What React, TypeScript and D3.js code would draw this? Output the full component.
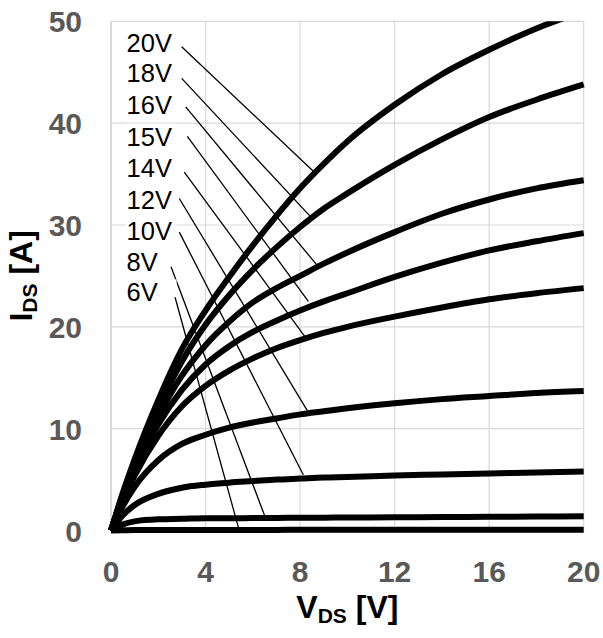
import React from "react";
import * as d3 from "d3";

const VDS = [0, 0.5, 1, 2, 3, 4, 5, 6, 7, 8, 9, 10, 12, 14, 16, 18, 20];

const I_20V = [0, 3.7, 7.0, 12.8, 17.8, 21.6, 24.9, 28.0, 30.9, 33.6, 36.0, 38.2, 41.8, 44.8, 47.2, 49.3, 51.0];
const I_18V = [0, 3.5, 6.6, 12.0, 16.6, 20.2, 23.1, 25.6, 27.8, 29.8, 31.6, 33.1, 35.9, 38.4, 40.6, 42.3, 43.8];
const I_16V = [0, 3.3, 6.2, 11.2, 15.2, 18.2, 20.5, 22.4, 23.8, 25.0, 26.2, 27.3, 29.3, 31.1, 32.5, 33.6, 34.4];
const I_15V = [0, 3.2, 5.9, 10.4, 13.8, 16.3, 18.1, 19.5, 20.6, 21.6, 22.5, 23.3, 24.9, 26.3, 27.5, 28.4, 29.2];
const I_14V = [0, 3.0, 5.4, 9.3, 12.2, 14.2, 15.7, 16.9, 17.9, 18.7, 19.4, 20.0, 21.0, 21.9, 22.7, 23.3, 23.8];
const I_12V = [0, 2.4, 4.3, 6.9, 8.5, 9.4, 10.1, 10.6, 11.0, 11.4, 11.7, 12.0, 12.5, 12.9, 13.2, 13.5, 13.7];
const I_10V = [0, 1.5, 2.5, 3.6, 4.2, 4.5, 4.7, 4.85, 5.0, 5.1, 5.2, 5.25, 5.4, 5.5, 5.6, 5.7, 5.8];
const I_8V = [0, 0.6, 0.9, 1.1, 1.15, 1.2, 1.2, 1.22, 1.23, 1.25, 1.26, 1.27, 1.3, 1.32, 1.35, 1.37, 1.4];
const I_6V = [0, 0.02, 0.04, 0.05, 0.05, 0.06, 0.06, 0.06, 0.06, 0.07, 0.07, 0.07, 0.07, 0.08, 0.08, 0.08, 0.08];

const SERIES = [I_20V, I_18V, I_16V, I_15V, I_14V, I_12V, I_10V, I_8V, I_6V];

const GATE_LABELS = ["20V", "18V", "16V", "15V", "14V", "12V", "10V", "8V", "6V"];
const LABEL_V = 0.66;
const LABEL_I = [47.0, 44.0, 40.9, 37.8, 34.7, 31.6, 28.5, 25.5, 22.5];
const LEADER_START_V = [2.99, 2.99, 3.16, 3.23, 3.1, 2.89, 2.89, 2.54, 2.71];
const LEADER_START_I = [47.5, 44.4, 41.6, 38.7, 35.2, 32.6, 29.3, 25.9, 22.9];
const LEADER_END_V = [8.55, 8.49, 8.7, 8.35, 8.25, 8.3, 8.14, 6.5, 5.39];
const LEADER_END_I = [35.3, 30.7, 26.1, 22.5, 18.9, 11.8, 5.45, 1.45, 0.3];

const X_TICKS = [0, 4, 8, 12, 16, 20];
const Y_TICKS = [0, 10, 20, 30, 40, 50];

const W = 603;
const H = 638;
const FONT = "'Liberation Sans', Arial, Helvetica, sans-serif";

export default function App() {
  const x = d3.scaleLinear().domain([0, 20]).range([111, 583.7]);
  const y = d3.scaleLinear().domain([0, 50]).range([530.5, 21.3]);

  const line = d3
    .line<[number, number]>()
    .x((d) => x(d[0]))
    .y((d) => y(d[1]))
    .curve(d3.curveMonotoneX);

  const [x0, x1] = x.range();
  const [y0, y1] = y.range();

  return (
    <svg
      width={W}
      height={H}
      viewBox={`0 0 ${W} ${H}`}
      style={{ position: "absolute", left: 0, top: 0, background: "#fff" }}
    >
      <defs>
        <clipPath id="plot">
          <rect x={x0 - 4} y={y1} width={x1 - x0 + 8} height={y0 - y1 + 6} />
        </clipPath>
      </defs>
      <rect x={0} y={0} width={W} height={H} fill="#fff" />
      {X_TICKS.map((t) => (
        <line key={"gx" + t} x1={x(t)} x2={x(t)} y1={y1} y2={y0} stroke={t === 0 ? "#bfbfbf" : "#d9d9d9"} strokeWidth={1.2} />
      ))}
      {Y_TICKS.map((t) => (
        <line key={"gy" + t} x1={x0} x2={x1} y1={y(t)} y2={y(t)} stroke="#d9d9d9" strokeWidth={1.2} />
      ))}
      <g clipPath="url(#plot)">
        {SERIES.map((s, i) => (
          <path
            key={"c" + i}
            d={line(VDS.map((v, k) => [v, s[k]] as [number, number])) || ""}
            fill="none"
            stroke="#000"
            strokeWidth={6}
            strokeLinecap="butt"
            strokeLinejoin="round"
          />
        ))}
      </g>
      {GATE_LABELS.map((lab, i) => (
        <g key={"l" + i}>
          <rect x={x(LABEL_V) - 1} y={y(LABEL_I[i]) - 22} width={51} height={27} fill="#fff" />
          <text x={x(LABEL_V)} y={y(LABEL_I[i])} fontFamily={FONT} fontSize={25.5} fill="#000">
            {lab}
          </text>
          <line
            x1={x(LEADER_START_V[i])}
            y1={y(LEADER_START_I[i])}
            x2={x(LEADER_END_V[i])}
            y2={y(LEADER_END_I[i])}
            stroke="#000"
            strokeWidth={1.3}
          />
        </g>
      ))}
      {Y_TICKS.map((t) => (
        <text
          key={"yt" + t}
          x={82}
          y={y(t) + 11}
          textAnchor="end"
          fontFamily={FONT}
          fontWeight="bold"
          fontSize={30}
          fill="#595959"
        >
          {t}
        </text>
      ))}
      {X_TICKS.map((t) => (
        <text
          key={"xt" + t}
          x={x(t)}
          y={581.5}
          textAnchor="middle"
          fontFamily={FONT}
          fontWeight="bold"
          fontSize={30}
          fill="#595959"
        >
          {t}
        </text>
      ))}
      <text
        x={(x0 + x1) / 2}
        y={618}
        textAnchor="middle"
        fontFamily={FONT}
        fontWeight="bold"
        fontSize={32}
        fill="#000"
      >
        V
        <tspan fontSize={21} dy={5}>DS</tspan>
        <tspan dy={-5}> [V]</tspan>
      </text>
      <text
        transform={`translate(32, ${(y0 + y1) / 2}) rotate(-90)`}
        textAnchor="middle"
        fontFamily={FONT}
        fontWeight="bold"
        fontSize={32}
        fill="#000"
      >
        I
        <tspan fontSize={21} dy={5}>DS</tspan>
        <tspan dy={-5}> [A]</tspan>
      </text>
    </svg>
  );
}
